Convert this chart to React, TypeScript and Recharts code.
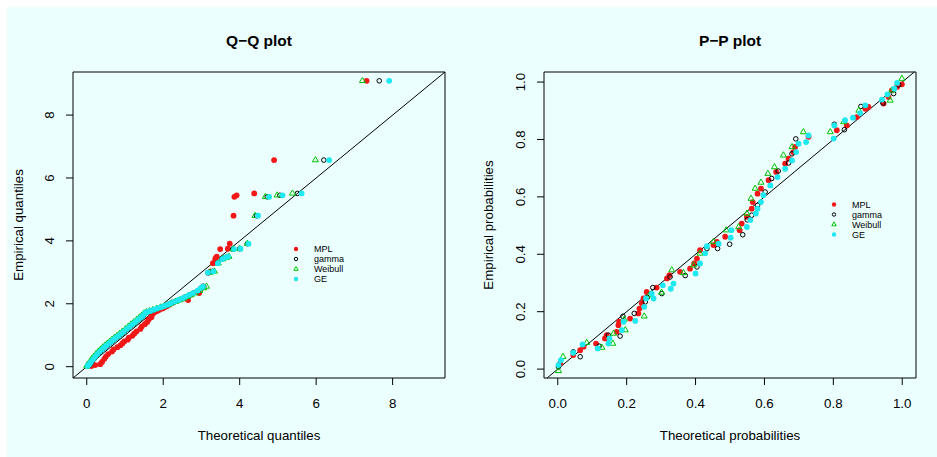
import React from 'react';
import { ScatterChart, Scatter, XAxis, YAxis, ReferenceLine, ReferenceArea, Customized } from 'recharts';

const FONT = '"Liberation Sans", Arial, Helvetica, sans-serif';

const seriesNames = ['MPL', 'gamma', 'Weibull', 'GE'];
const seriesColors = ['#f21818', '#000000', '#00c400', '#1ee8f0'];

// ---------- Q-Q plot data (empirical quantiles shared, theoretical per model) ----------
const qqEmpirical = [0.02, 0.05, 0.08, 0.15, 0.25, 0.32, 0.40, 0.48, 0.55, 0.62, 0.68, 0.74, 0.80, 0.86, 0.92, 0.98, 1.05, 1.12, 1.20, 1.28, 1.35, 1.42, 1.50, 1.57, 1.63, 1.70, 1.74, 1.77, 1.81, 1.85, 1.89, 1.93, 1.97, 2.02, 2.07, 2.12, 2.17, 2.22, 2.28, 2.34, 2.42, 2.50, 2.55, 2.99, 3.03, 3.29, 3.42, 3.47, 3.50, 3.74, 3.75, 3.91, 4.80, 5.40, 5.45, 5.51, 6.57, 9.09];
const qqMPL = [0.12, 0.22, 0.35, 0.40, 0.46, 0.50, 0.56, 0.66, 0.70, 0.80, 0.88, 0.93, 0.98, 1.07, 1.10, 1.19, 1.24, 1.30, 1.40, 1.44, 1.52, 1.58, 1.62, 1.69, 1.70, 1.74, 1.78, 1.84, 1.90, 1.98, 2.04, 2.10, 2.16, 2.22, 2.30, 2.65, 2.55, 2.60, 2.70, 2.94, 2.92, 3.00, 3.04, 3.18, 3.24, 3.30, 3.36, 3.38, 3.40, 3.49, 3.69, 3.74, 3.84, 3.86, 3.92, 4.38, 4.90, 7.32];
const qqGamma = [0.03, 0.06, 0.09, 0.13, 0.19, 0.24, 0.30, 0.36, 0.42, 0.48, 0.54, 0.60, 0.66, 0.72, 0.78, 0.85, 0.92, 0.99, 1.07, 1.15, 1.22, 1.29, 1.37, 1.44, 1.49, 1.54, 1.60, 1.68, 1.76, 1.85, 1.95, 2.04, 2.13, 2.21, 2.31, 2.41, 2.51, 2.59, 2.69, 2.79, 2.91, 3.00, 3.06, 3.18, 3.30, 3.42, 3.53, 3.62, 3.68, 3.82, 4.00, 4.20, 4.44, 4.72, 5.05, 5.51, 6.20, 7.65];
const qqWeibull = [0.00, 0.01, 0.04, 0.08, 0.13, 0.18, 0.24, 0.30, 0.36, 0.42, 0.48, 0.54, 0.60, 0.66, 0.72, 0.79, 0.86, 0.93, 1.01, 1.09, 1.16, 1.23, 1.31, 1.38, 1.44, 1.50, 1.56, 1.64, 1.73, 1.83, 1.93, 2.03, 2.13, 2.22, 2.33, 2.44, 2.54, 2.63, 2.73, 2.84, 2.96, 3.06, 3.13, 3.22, 3.34, 3.44, 3.56, 3.66, 3.72, 3.83, 4.00, 4.20, 4.40, 4.67, 4.98, 5.38, 5.98, 7.21];
const qqGE = [0.02, 0.04, 0.07, 0.11, 0.17, 0.22, 0.28, 0.34, 0.40, 0.46, 0.52, 0.58, 0.64, 0.70, 0.76, 0.83, 0.90, 0.97, 1.05, 1.13, 1.20, 1.27, 1.35, 1.42, 1.47, 1.52, 1.58, 1.66, 1.75, 1.84, 1.94, 2.03, 2.12, 2.20, 2.30, 2.40, 2.50, 2.58, 2.68, 2.78, 2.90, 2.98, 3.04, 3.17, 3.31, 3.43, 3.54, 3.62, 3.70, 3.85, 4.02, 4.23, 4.48, 4.77, 5.12, 5.62, 6.34, 7.91];
const qqTicks = [0, 2, 4, 6, 8];
const qqDomain: [number, number] = [-0.36, 9.37];

// ---------- P-P plot data ----------
const ppMPLx = [0.007, 0.045, 0.065, 0.075, 0.111, 0.137, 0.142, 0.171, 0.176, 0.178, 0.21, 0.234, 0.237, 0.244, 0.249, 0.258, 0.287, 0.317, 0.324, 0.355, 0.384, 0.396, 0.404, 0.413, 0.452, 0.462, 0.486, 0.528, 0.534, 0.549, 0.563, 0.566, 0.58, 0.59, 0.612, 0.634, 0.66, 0.67, 0.684, 0.689, 0.728, 0.81, 0.839, 0.868, 0.893, 0.902, 0.946, 0.96, 0.97, 0.985, 0.999];
const ppMPLy = [0.02, 0.049, 0.066, 0.078, 0.089, 0.107, 0.118, 0.13, 0.153, 0.165, 0.176, 0.194, 0.211, 0.229, 0.246, 0.269, 0.284, 0.316, 0.327, 0.339, 0.35, 0.368, 0.385, 0.414, 0.432, 0.443, 0.461, 0.484, 0.507, 0.53, 0.559, 0.582, 0.611, 0.629, 0.658, 0.687, 0.716, 0.733, 0.756, 0.774, 0.809, 0.832, 0.849, 0.878, 0.907, 0.913, 0.925, 0.948, 0.971, 0.983, 0.992];
const ppGammaX = [0.002, 0.045, 0.065, 0.12, 0.147, 0.181, 0.189, 0.222, 0.254, 0.26, 0.276, 0.302, 0.326, 0.37, 0.404, 0.433, 0.464, 0.499, 0.537, 0.55, 0.563, 0.58, 0.602, 0.621, 0.64, 0.67, 0.68, 0.691, 0.803, 0.832, 0.88, 0.944, 0.975, 0.99];
const ppGammaY = [0.008, 0.06, 0.043, 0.08, 0.118, 0.115, 0.184, 0.194, 0.234, 0.25, 0.284, 0.263, 0.321, 0.326, 0.356, 0.42, 0.42, 0.435, 0.468, 0.52, 0.536, 0.57, 0.617, 0.664, 0.69, 0.718, 0.75, 0.802, 0.853, 0.834, 0.915, 0.927, 0.96, 0.99];
const ppWeibullX = [0.002, 0.015, 0.084, 0.128, 0.16, 0.162, 0.196, 0.193, 0.251, 0.266, 0.301, 0.331, 0.365, 0.394, 0.413, 0.452, 0.489, 0.525, 0.549, 0.561, 0.573, 0.59, 0.61, 0.629, 0.655, 0.68, 0.713, 0.791, 0.83, 0.874, 0.965, 0.97, 0.999];
const ppWeibullY = [-0.006, 0.043, 0.092, 0.075, 0.089, 0.124, 0.136, 0.173, 0.184, 0.258, 0.267, 0.345, 0.335, 0.362, 0.403, 0.443, 0.484, 0.495, 0.542, 0.594, 0.629, 0.65, 0.681, 0.704, 0.745, 0.774, 0.826, 0.826, 0.861, 0.901, 0.936, 0.971, 1.012];
const ppGEx = [0.002, 0.009, 0.045, 0.072, 0.116, 0.147, 0.15, 0.186, 0.191, 0.225, 0.251, 0.256, 0.273, 0.278, 0.305, 0.328, 0.336, 0.4, 0.413, 0.428, 0.433, 0.467, 0.502, 0.504, 0.549, 0.559, 0.575, 0.58, 0.59, 0.597, 0.617, 0.638, 0.66, 0.68, 0.692, 0.699, 0.721, 0.728, 0.801, 0.803, 0.834, 0.857, 0.878, 0.893, 0.941, 0.957, 0.977, 0.985];
const ppGEy = [0.014, 0.031, 0.057, 0.086, 0.072, 0.089, 0.107, 0.136, 0.165, 0.168, 0.217, 0.246, 0.263, 0.246, 0.292, 0.28, 0.298, 0.333, 0.368, 0.403, 0.428, 0.437, 0.458, 0.484, 0.495, 0.519, 0.542, 0.559, 0.582, 0.606, 0.64, 0.669, 0.698, 0.727, 0.756, 0.785, 0.791, 0.814, 0.803, 0.849, 0.867, 0.876, 0.892, 0.919, 0.939, 0.957, 0.977, 0.997];
const ppTicks = [0, 0.2, 0.4, 0.6, 0.8, 1.0];
const ppXDomain: [number, number] = [-0.04, 1.04];
const ppYDomain: [number, number] = [-0.031, 1.035];

const zipQQ = (xs: number[]) => xs.map((x, i) => ({ x, y: qqEmpirical[i] }));
const zipPP = (xs: number[], ys: number[]) => xs.map((x, i) => ({ x, y: ys[i] }));

// ---------- marker shapes ----------
const makeShape = (idx: number, scale = 1) => (p: any) => {
  const { cx, cy } = p;
  if (cx == null || cy == null) return <g />;
  const c = seriesColors[idx];
  if (idx === 0 || idx === 3) return <circle cx={cx} cy={cy} r={2.9 * scale} fill={c} />;
  if (idx === 1) return <circle cx={cx} cy={cy} r={2.3 * scale} fill="none" stroke={c} strokeWidth={1} />;
  const w = 3 * scale, h = 5.2 * scale;
  return (
    <polygon
      points={`${cx},${cy - (h * 2) / 3} ${cx - w},${cy + h / 3} ${cx + w},${cy + h / 3}`}
      fill="none"
      stroke={c}
      strokeWidth={1}
    />
  );
};

const W = 465;
const H = 450;

type PanelProps = {
  title: string;
  xLabel: string;
  yLabel: string;
  xDomain: [number, number];
  yDomain: [number, number];
  ticks: number[];
  fmt: (v: number) => string;
  data: { x: number; y: number }[][];
  margin: { top: number; right: number; bottom: number; left: number };
  yLabelX: number;
  legend: { symX: number; textX: number; rows: number[] };
  left: number;
};

function Panel(props: PanelProps) {
  const { title, xLabel, yLabel, xDomain, yDomain, ticks, fmt, data, margin, yLabelX, legend, left } = props;
  const plotLeft = margin.left + 30;
  const plotRight = W - margin.right;
  const cx = (plotLeft + plotRight) / 2;
  const cy = (margin.top + (H - margin.bottom - 30)) / 2;
  const lo = Math.max(xDomain[0], yDomain[0]);
  const hi = Math.min(xDomain[1], yDomain[1]);

  const XTick = (p: any) => (
    <text x={p.x} y={p.y + 22.8} textAnchor="middle" fontSize={13.3} fontFamily={FONT} fill="#000">
      {fmt(p.payload.value)}
    </text>
  );
  const YTick = (p: any) => {
    const bx = p.x - 11.6;
    return (
      <text x={bx} y={p.y} transform={`rotate(-90 ${bx} ${p.y})`} textAnchor="middle" fontSize={13.3} fontFamily={FONT} fill="#000">
        {fmt(p.payload.value)}
      </text>
    );
  };

  const Texts = () => (
    <g fontFamily={FONT} fill="#000">
      <text x={cx} y={39} textAnchor="middle" fontSize={15.5} fontWeight="bold">{title}</text>
      <text x={cx} y={433} textAnchor="middle" fontSize={13.3}>{xLabel}</text>
      <text x={yLabelX} y={cy} transform={`rotate(-90 ${yLabelX} ${cy})`} textAnchor="middle" fontSize={13.3}>{yLabel}</text>
      {seriesNames.map((n, i) => (
        <g key={n}>
          {makeShape(i, 0.75)({ cx: legend.symX, cy: legend.rows[i] })}
          <text x={legend.textX} y={legend.rows[i] + 3.2} fontSize={9}>{n}</text>
        </g>
      ))}
    </g>
  );

  return (
    <div style={{ position: 'absolute', left, top: 0, width: W, height: H }}>
      <ScatterChart width={W} height={H} margin={margin}>
        <XAxis
          type="number"
          dataKey="x"
          domain={xDomain}
          ticks={ticks}
          allowDataOverflow
          axisLine={false}
          tickLine={{ stroke: '#000' }}
          tickSize={7}
          tickMargin={0}
          height={30}
          tick={XTick}
          interval={0}
        />
        <YAxis
          type="number"
          dataKey="y"
          domain={yDomain}
          ticks={ticks}
          allowDataOverflow
          axisLine={false}
          tickLine={{ stroke: '#000' }}
          tickSize={7}
          tickMargin={0}
          width={30}
          tick={YTick}
          interval={0}
        />
        <ReferenceArea x1={xDomain[0]} x2={xDomain[1]} y1={yDomain[0]} y2={yDomain[1]} fill="none" stroke="#000" strokeWidth={1} ifOverflow="visible" />
        <ReferenceLine segment={[{ x: lo, y: lo }, { x: hi, y: hi }]} stroke="#000" strokeWidth={1} ifOverflow="visible" />
        {data.map((d, i) => (
          <Scatter key={seriesNames[i]} name={seriesNames[i]} data={d} shape={makeShape(i)} isAnimationActive={false} />
        ))}
        <Customized component={Texts} />
      </ScatterChart>
    </div>
  );
}

export default function App() {
  const qqData = [zipQQ(qqMPL), zipQQ(qqGamma), zipQQ(qqWeibull), zipQQ(qqGE)];
  const ppData = [zipPP(ppMPLx, ppMPLy), zipPP(ppGammaX, ppGammaY), zipPP(ppWeibullX, ppWeibullY), zipPP(ppGEx, ppGEy)];
  return (
    <div style={{ position: 'absolute', left: 7, top: 7, width: 930, height: 450, background: '#ecffff', fontFamily: FONT }}>
      <Panel
        title={'Q\u2212Q plot'}
        xLabel="Theoretical quantiles"
        yLabel="Empirical quantiles"
        xDomain={qqDomain}
        yDomain={qqDomain}
        ticks={qqTicks}
        fmt={(v) => String(v)}
        data={qqData}
        margin={{ top: 65, right: 27, bottom: 49, left: 36 }}
        yLabelX={15.5}
        legend={{ symX: 289, textX: 307, rows: [242, 252, 262, 272] }}
        left={0}
      />
      <Panel
        title={'P\u2212P plot'}
        xLabel="Theoretical probabilities"
        yLabel="Empirical probabilities"
        xDomain={ppXDomain}
        yDomain={ppYDomain}
        ticks={ppTicks}
        fmt={(v) => v.toFixed(1)}
        data={ppData}
        margin={{ top: 65, right: 21, bottom: 49, left: 42 }}
        yLabelX={20.8}
        legend={{ symX: 362, textX: 380, rows: [197.5, 207.5, 217.5, 227.5] }}
        left={465}
      />
    </div>
  );
}
